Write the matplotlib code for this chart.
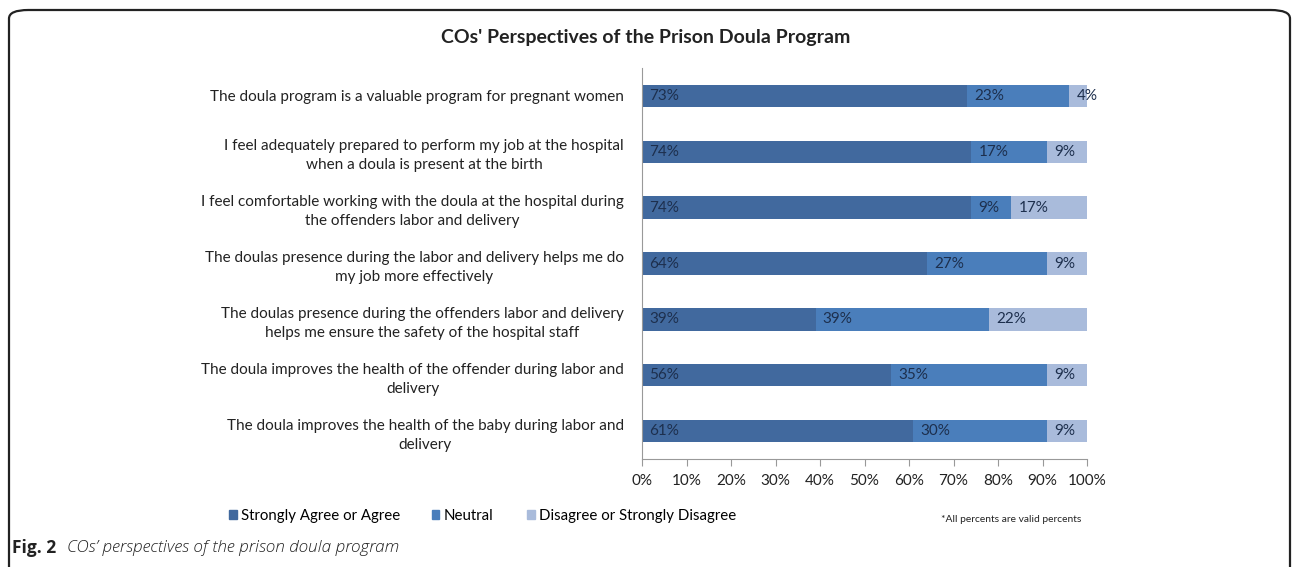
import matplotlib
matplotlib.use("Agg")
import matplotlib.pyplot as plt
from matplotlib.patches import FancyBboxPatch
from matplotlib.patches import Patch
import numpy as np

# data
statements = [
    "The doula program is a valuable program for pregnant women",
    "I feel adequately prepared to perform my job at the hospital\nwhen a doula is present at the birth",
    "I feel comfortable working with the doula at the hospital during\nthe offenders labor and delivery",
    "The doulas presence during the labor and delivery helps me do\nmy job more effectively",
    "The doulas presence during the offenders labor and delivery\nhelps me ensure the safety of the hospital staff",
    "The doula improves the health of the offender during labor and\ndelivery",
    "The doula improves the health of the baby during labor and\ndelivery",
]
agree = [73, 74, 74, 64, 39, 56, 61]
neutral = [23, 17, 9, 27, 39, 35, 30]
disagree = [4, 9, 17, 9, 22, 9, 9]
series_names = ["Strongly Agree or Agree", "Neutral", "Disagree or Strongly Disagree"]
colors = ["#41699e", "#4a7ebb", "#a9bbdb"]
xticks = list(range(0, 101, 10))

FONT = ["Lato", "DejaVu Sans"]
plt.rcParams['font.family'] = FONT

W, H = 1292, 567
fig = plt.figure(figsize=(W / 100, H / 100), dpi=100)

# outer frame (rounded, open at the bottom)
frame = FancyBboxPatch((9 / W, -0.1), (1290 - 9) / W, (H - 10) / H + 0.1,
                       boxstyle="round,pad=0,rounding_size=0.015",
                       transform=fig.transFigure, fill=False,
                       edgecolor="#222222", linewidth=1.6, clip_on=False)
fig.patches.append(frame)

ax = fig.add_axes([642 / W, 1 - 459 / H, 445 / W, (459 - 68) / H])

y = np.arange(len(statements))
left = np.zeros(len(statements))
for vals, name, col in zip([agree, neutral, disagree], series_names, colors):
    vals = np.array(vals, dtype=float)
    ax.barh(y, vals, left=left, height=0.4, color=col, label=name)
    for yi, l, v in zip(y, left, vals):
        ax.text(l + 1.6, yi, f"{int(v)}%", va="center", ha="left",
                fontsize=11, color="#1d2f4d")
    left += vals

ax.set_ylim(len(statements) - 0.5, -0.5)
ax.set_xlim(0, 100)
ax.set_yticks(y)
ax.set_yticklabels(statements, fontsize=11, color="#222222")
for lbl in ax.get_yticklabels():
    lbl.set_multialignment("center")
    lbl.set_linespacing(1.45)
ax.tick_params(axis="y", length=0, pad=13)
ax.set_xticks(xticks)
ax.set_xticklabels([f"{t}%" for t in xticks], fontsize=11, color="#222222")
ax.tick_params(axis="x", length=5, color="#999999", direction="out", pad=6)
for s in ["top", "right"]:
    ax.spines[s].set_visible(False)
for s in ["left", "bottom"]:
    ax.spines[s].set_color("#999999")

fig.text(0.5, 1 - 38 / H, "COs' Perspectives of the Prison Doula Program",
         ha="center", va="center", fontsize=14, fontweight="bold", color="#222222")

# legend entries placed one by one, as in the original layout
legend_x = [229, 432, 527]
for name, col, lx in zip(series_names, colors, legend_x):
    fig.legend(handles=[Patch(color=col, label=name)], loc="center left",
               bbox_to_anchor=(lx / W, 1 - 516 / H), frameon=False,
               fontsize=10.8, handlelength=0.5, handleheight=0.5,
               handletextpad=0.3, borderaxespad=0, borderpad=0)

fig.text(1081 / W, 1 - 519 / H, "*All percents are valid percents", ha="right",
         va="center", fontsize=7.4, color="#222222")

fig.text(12 / W, 1 - 548 / H, "Fig. 2", ha="left", va="center", fontsize=12.5,
         fontweight="bold", family=["Open Sans", "DejaVu Sans"], color="#222222")
fig.text(67 / W, 1 - 548 / H, "COs\u2019 perspectives of the prison doula program",
         ha="left", va="center", fontsize=12.3, style="italic", fontweight="light",
         family=["Open Sans", "DejaVu Sans"], color="#222222")

fig.savefig("out.png", dpi=100)
